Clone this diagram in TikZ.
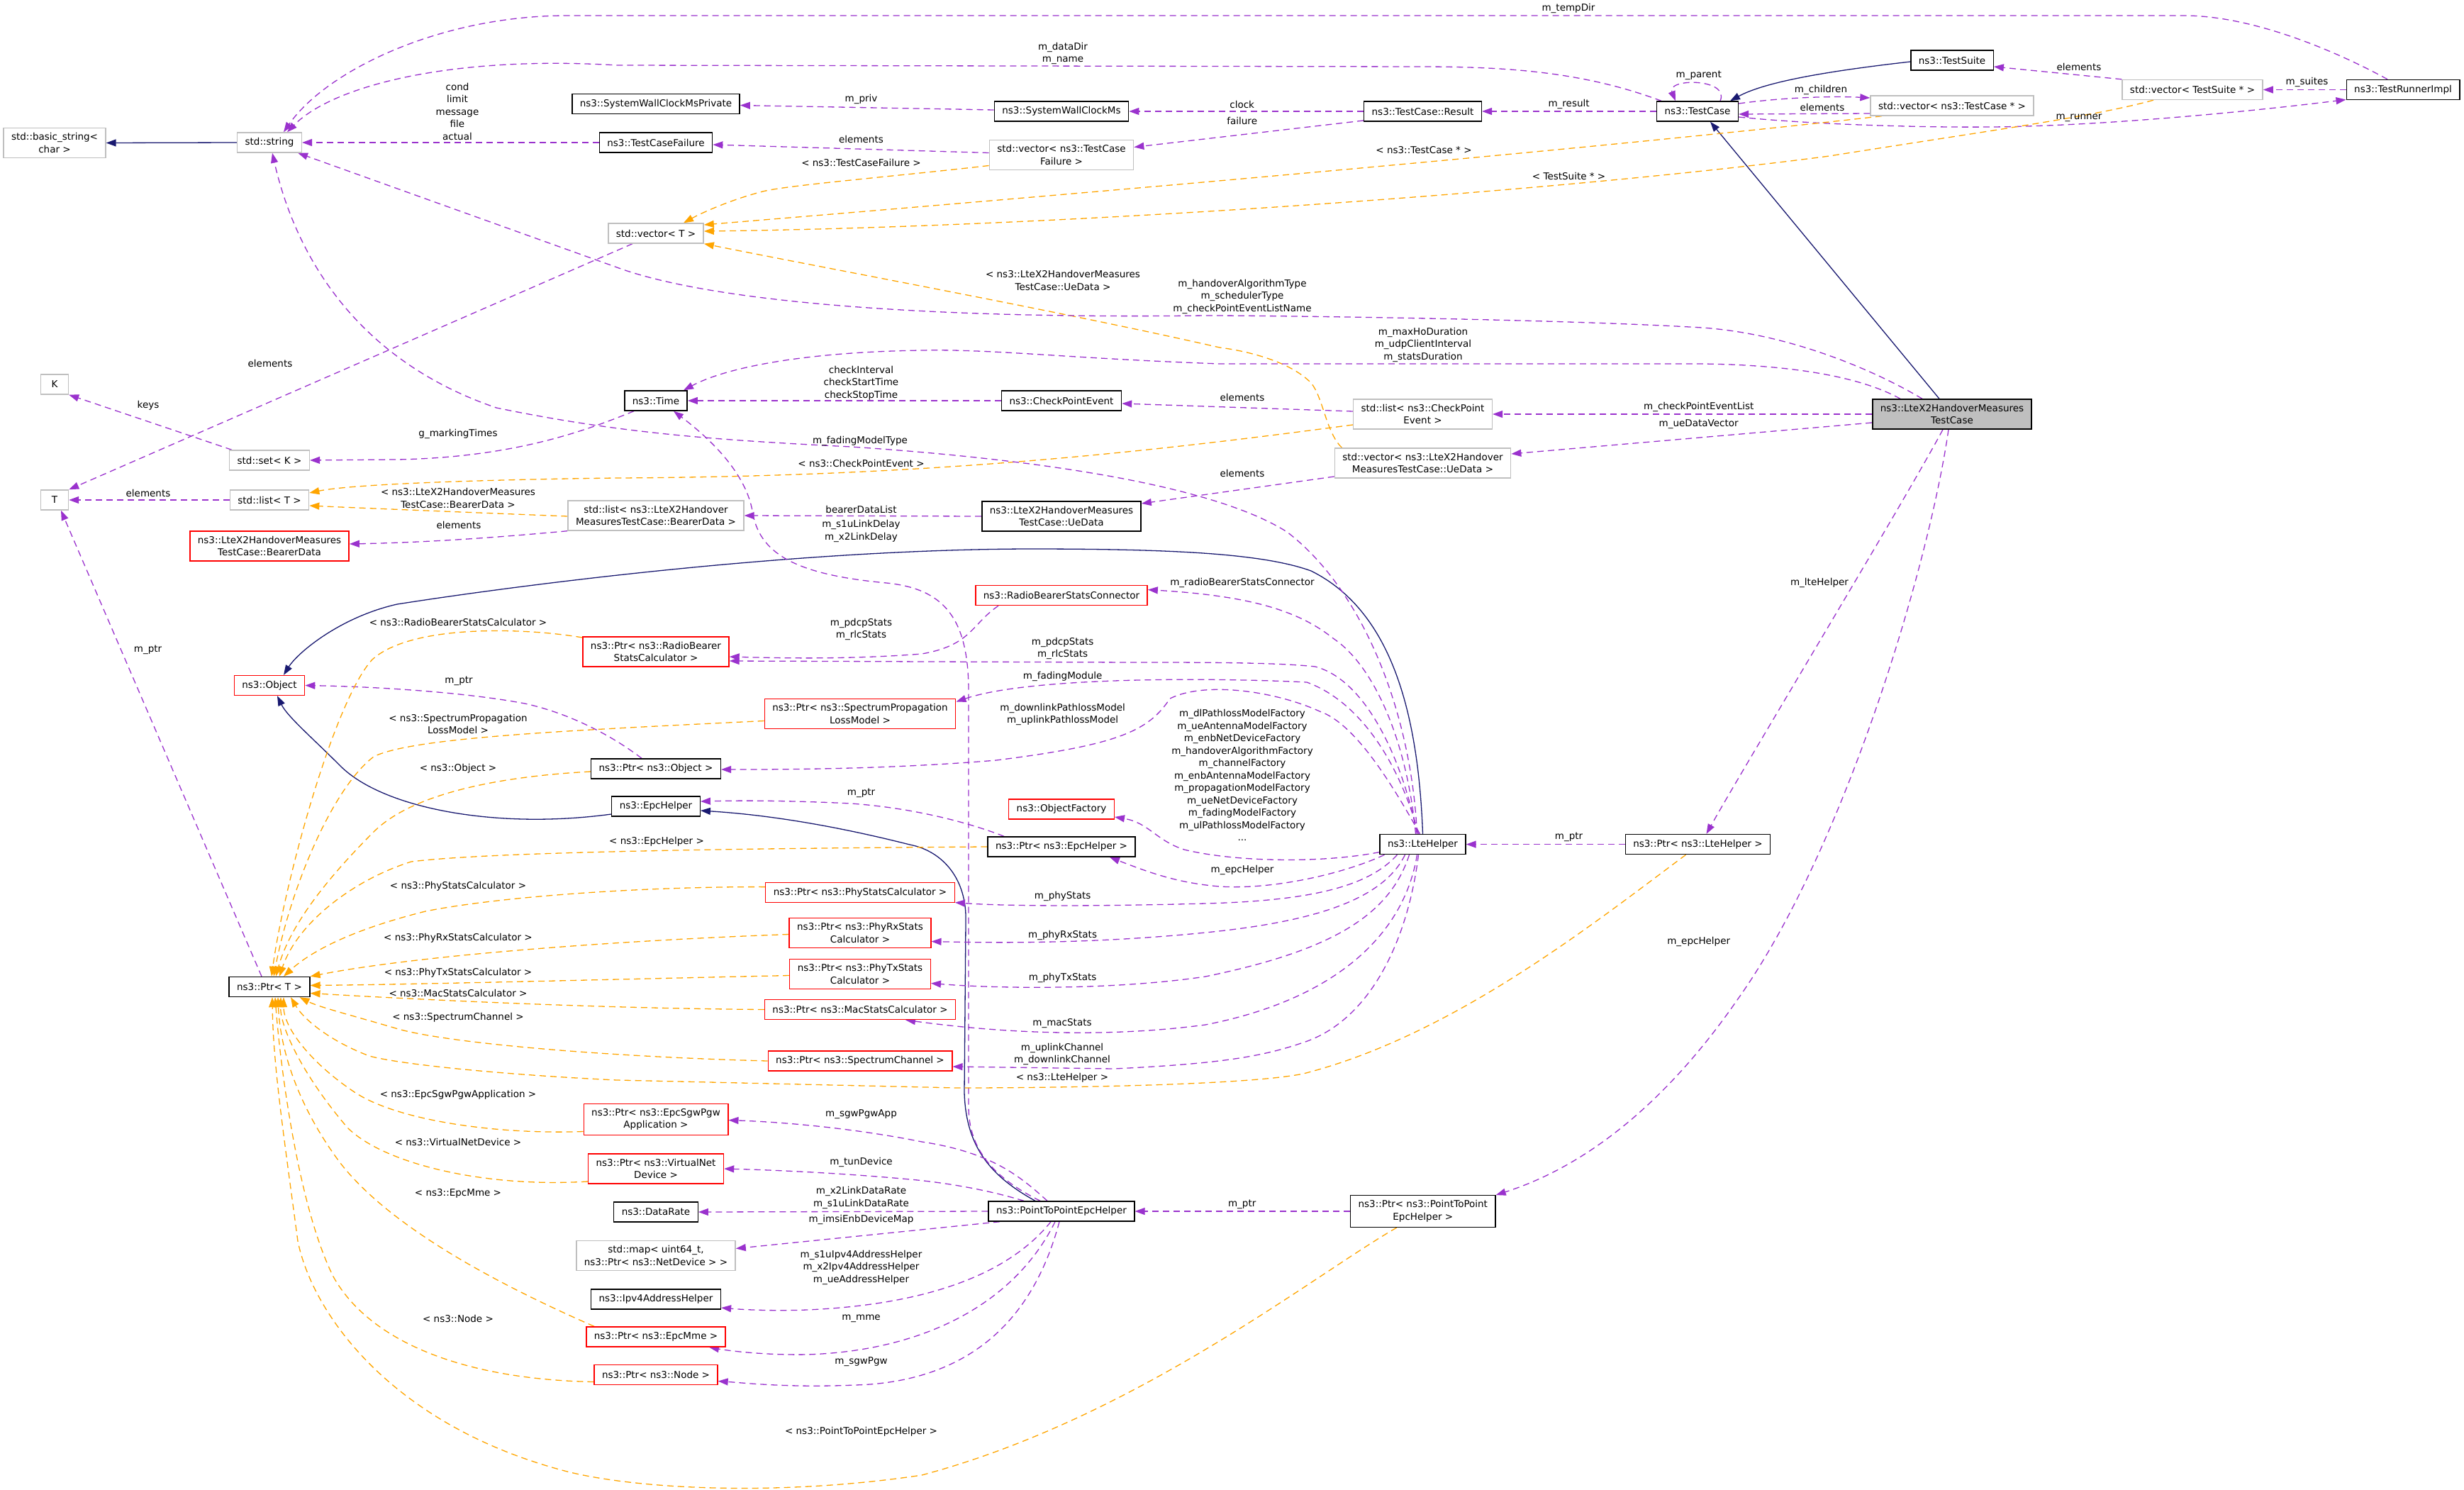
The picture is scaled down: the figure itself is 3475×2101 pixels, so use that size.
\documentclass[tikz,border=0pt]{standalone}
\usepackage{fontspec}
\setmainfont{DejaVu Sans}
\usepackage{tikz}
\usetikzlibrary{arrows.meta, backgrounds}
\definecolor{memPurple}{HTML}{9A32CD}
\definecolor{tmplOrange}{HTML}{FFA500}
\definecolor{inhNavy}{HTML}{191970}
\definecolor{boxGray}{HTML}{BFBFBF}
\definecolor{boxRed}{HTML}{FF0000}
\tikzset{
  classnode/.style={
    rectangle, draw=black, fill=white, line width=1.4pt,
    inner xsep=11pt, inner ysep=7pt, minimum height=28pt,
    align=center, font=\fontsize{13.5pt}{17.5pt}\selectfont
  },
  tmplnode/.style={classnode, draw=boxGray},
  truncnode/.style={classnode, draw=boxRed},
  focusnode/.style={classnode, fill=boxGray},
  elabel/.style={
    inner sep=0pt, align=center,
    font=\fontsize{13.5pt}{17.5pt}\selectfont
  },
  memarrow/.style={
    -{Triangle[length=14pt,width=10pt]},
    line width=1.3pt, color=memPurple, dash pattern=on 9pt off 6pt
  },
  tmplarrow/.style={memarrow, color=tmplOrange},
  inharrow/.style={
    -{Triangle[length=14pt,width=10pt]},
    line width=1.3pt, color=inhNavy
  }
}

\begin{document}
\begin{tikzpicture}[x=1pt, y=-1pt]
  \useasboundingbox (0,0) rectangle (3475,2101);

  % left columns
  \node[tmplnode] (bstr) at (77,201.5) {std::basic\_string<\\char >};
  \node[tmplnode, minimum width=39pt] (kk) at (77,542) {K};
  \node[tmplnode, minimum width=39pt] (tt) at (77,705) {T};
  \node[tmplnode] (str)   at (380,201)   {std::string};
  \node[tmplnode] (setk)  at (380,649)   {std::set< K >};
  \node[tmplnode] (listt) at (380,705)   {std::list< T >};
  \node[truncnode] (bdata) at (380,770)  {ns3::LteX2HandoverMeasures\\TestCase::BearerData};
  \node[truncnode] (obj)  at (380,966.5) {ns3::Object};
  \node[classnode] (ptrt) at (380,1391.5) {ns3::Ptr< T >};

  % column of members
  \node[classnode] (swcp)   at (925,146.5) {ns3::SystemWallClockMsPrivate};
  \node[classnode] (tcf)    at (925,201)   {ns3::TestCaseFailure};
  \node[tmplnode]  (vect)   at (925,329)   {std::vector< T >};
  \node[classnode] (time)   at (925,565)   {ns3::Time};
  \node[tmplnode]  (listbd) at (925,727)   {std::list< ns3::LteX2Handover\\MeasuresTestCase::BearerData >};
  \node[truncnode] (ptrrbsc) at (925,919)  {ns3::Ptr< ns3::RadioBearer\\StatsCalculator >};
  \node[classnode] (ptrobj) at (925,1084)  {ns3::Ptr< ns3::Object >};
  \node[classnode] (epc)    at (925,1137)  {ns3::EpcHelper};
  \node[truncnode] (ptrsgw) at (925,1578.5) {ns3::Ptr< ns3::EpcSgwPgw\\Application >};
  \node[truncnode] (ptrvnd) at (925,1648)  {ns3::Ptr< ns3::VirtualNet\\Device >};
  \node[classnode] (drate)  at (925,1709)  {ns3::DataRate};
  \node[tmplnode]  (imap)   at (925,1770.5) {std::map< uint64\_t,\\ns3::Ptr< ns3::NetDevice > >};
  \node[classnode] (ipv4)   at (925,1832)  {ns3::Ipv4AddressHelper};
  \node[truncnode] (ptrmme) at (925,1885)  {ns3::Ptr< ns3::EpcMme >};
  \node[truncnode] (ptrnode) at (925,1938.5) {ns3::Ptr< ns3::Node >};

  \node[truncnode] (ptrsplm) at (1213,1006.5) {ns3::Ptr< ns3::SpectrumPropagation\\LossModel >};
  \node[truncnode] (ptrphy)  at (1213,1258.6) {ns3::Ptr< ns3::PhyStatsCalculator >};
  \node[truncnode] (ptrrx)   at (1213,1315.5) {ns3::Ptr< ns3::PhyRxStats\\Calculator >};
  \node[truncnode] (ptrtx)   at (1213,1373.5) {ns3::Ptr< ns3::PhyTxStats\\Calculator >};
  \node[truncnode] (ptrmac)  at (1213,1423.5) {ns3::Ptr< ns3::MacStatsCalculator >};
  \node[truncnode] (ptrsc)   at (1213,1496)   {ns3::Ptr< ns3::SpectrumChannel >};

  \node[classnode] (swc)     at (1497,157)   {ns3::SystemWallClockMs};
  \node[tmplnode]  (vectcf)  at (1497,218.5) {std::vector< ns3::TestCase\\Failure >};
  \node[classnode] (cpe)     at (1497,565)   {ns3::CheckPointEvent};
  \node[classnode] (uedata)  at (1497,728)   {ns3::LteX2HandoverMeasures\\TestCase::UeData};
  \node[truncnode] (rbsconn) at (1497,839.5) {ns3::RadioBearerStatsConnector};
  \node[truncnode] (ofac)    at (1497,1141)  {ns3::ObjectFactory};
  \node[classnode] (ptrepc)  at (1497,1194)  {ns3::Ptr< ns3::EpcHelper >};
  \node[classnode] (p2p)     at (1497,1708)  {ns3::PointToPointEpcHelper};

  \node[classnode] (result)  at (2006.5,157) {ns3::TestCase::Result};
  \node[tmplnode]  (listcpe) at (2006.5,584) {std::list< ns3::CheckPoint\\Event >};
  \node[tmplnode]  (vecue)   at (2006.5,653) {std::vector< ns3::LteX2Handover\\MeasuresTestCase::UeData >};
  \node[classnode] (lte)     at (2006.5,1190.6) {ns3::LteHelper};
  \node[classnode] (ptrp2p)  at (2006.8,1708) {ns3::Ptr< ns3::PointToPoint\\EpcHelper >};

  \node[classnode] (tcase)   at (2394,157)    {ns3::TestCase};
  \node[classnode] (ptrlte)  at (2394.5,1190.6) {ns3::Ptr< ns3::LteHelper >};

  \node[classnode] (tsuite)  at (2753,85)   {ns3::TestSuite};
  \node[tmplnode]  (vectc)   at (2753,149)  {std::vector< ns3::TestCase * >};
  \node[focusnode] (main)    at (2753,584)  {ns3::LteX2HandoverMeasures\\TestCase};
  \node[tmplnode]  (vects)   at (3092,126.5) {std::vector< TestSuite * >};
  \node[classnode] (runner)  at (3389,126.5) {ns3::TestRunnerImpl};

  % edge labels
  \node[elabel] (lTemp)   at (2212,12)     {m\_tempDir};
  \node[elabel] (lData)   at (1499,75.5)   {m\_dataDir\\m\_name};
  \node[elabel] (lCond)   at (645,157)     {cond\\limit\\message\\file\\actual};
  \node[elabel] (lPriv)   at (1214.5,140)  {m\_priv};
  \node[elabel] (lTcfEl)  at (1214.5,196)  {elements};
  \node[elabel] (lTcfT)   at (1214.5,229.6) {< ns3::TestCaseFailure >};
  \node[elabel] (lClock)  at (1751.7,147)  {clock};
  \node[elabel] (lFail)   at (1751.7,170)  {failure};
  \node[elabel] (lResult) at (2212.6,147)  {m\_result};
  \node[elabel] (lParent) at (2395.7,106)  {m\_parent};
  \node[elabel] (lChild)  at (2568,127)    {m\_children};
  \node[elabel] (lTcEl)   at (2570,151)    {elements};
  \node[elabel] (lTsEl)   at (2932,94)     {elements};
  \node[elabel] (lSuites) at (3253.5,116)  {m\_suites};
  \node[elabel] (lRunner) at (2932,166)    {m\_runner};
  \node[elabel] (lTcPtr)  at (2008,212)    {< ns3::TestCase * >};
  \node[elabel] (lTsPtr)  at (2212.6,248)  {< TestSuite * >};
  \node[elabel] (lUeT)    at (1499,395.5)  {< ns3::LteX2HandoverMeasures\\TestCase::UeData >};
  \node[elabel] (lHand)   at (1752,418)    {m\_handoverAlgorithmType\\m\_schedulerType\\m\_checkPointEventListName};
  \node[elabel] (lMaxHo)  at (2007,486)    {m\_maxHoDuration\\m\_udpClientInterval\\m\_statsDuration};
  \node[elabel] (lVecEl)  at (381,512)     {elements};
  \node[elabel] (lCheck)  at (1214.5,540)  {checkInterval\\checkStartTime\\checkStopTime};
  \node[elabel] (lCpeEl)  at (1752,560)    {elements};
  \node[elabel] (lCpeLst) at (2395.7,574)  {m\_checkPointEventList};
  \node[elabel] (lUeVec)  at (2395.7,598)  {m\_ueDataVector};
  \node[elabel] (lKeys)   at (209,572)     {keys};
  \node[elabel] (lMark)   at (646,612)     {g\_markingTimes};
  \node[elabel] (lFadTyp) at (1213,622)    {m\_fadingModelType};
  \node[elabel] (lCpeT)   at (1214.5,653.5) {< ns3::CheckPointEvent >};
  \node[elabel] (lUeEl)   at (1752,667)    {elements};
  \node[elabel] (lListEl) at (209,695)     {elements};
  \node[elabel] (lBdT)    at (646,702.5)   {< ns3::LteX2HandoverMeasures\\TestCase::BearerData >};
  \node[elabel] (lBdList) at (1214.5,718)  {bearerDataList};
  \node[elabel] (lBdEl)   at (647,740)     {elements};
  \node[elabel] (lDelay)  at (1214.5,749)  {m\_s1uLinkDelay\\m\_x2LinkDelay};
  \node[elabel] (lRbsCon) at (1752,822)    {m\_radioBearerStatsConnector};
  \node[elabel] (lLteH)   at (2566,822)    {m\_lteHelper};
  \node[elabel] (lRbsT)   at (646,877.7)   {< ns3::RadioBearerStatsCalculator >};
  \node[elabel] (lPdcpA)  at (1214.5,887.5) {m\_pdcpStats\\m\_rlcStats};
  \node[elabel] (lPdcpB)  at (1498.6,914.5) {m\_pdcpStats\\m\_rlcStats};
  \node[elabel] (lTPtr)   at (208.6,916)   {m\_ptr};
  \node[elabel] (lFadMod) at (1498.6,954)  {m\_fadingModule};
  \node[elabel] (lObjPtr) at (647,960)     {m\_ptr};
  \node[elabel] (lPath)   at (1498.6,1007.5) {m\_downlinkPathlossModel\\m\_uplinkPathlossModel};
  \node[elabel] (lSplmT)  at (646,1021)    {< ns3::SpectrumPropagation\\LossModel >};
  \node[elabel] (lFact)   at (1752,1093)   {m\_dlPathlossModelFactory\\m\_ueAntennaModelFactory\\m\_enbNetDeviceFactory\\m\_handoverAlgorithmFactory\\m\_channelFactory\\m\_enbAntennaModelFactory\\m\_propagationModelFactory\\m\_ueNetDeviceFactory\\m\_fadingModelFactory\\m\_ulPathlossModelFactory\\...};
  \node[elabel] (lObjT)   at (646,1084)    {< ns3::Object >};
  \node[elabel] (lEpcPtr) at (1214.5,1118) {m\_ptr};
  \node[elabel] (lLtePtr) at (2212.6,1180) {m\_ptr};
  \node[elabel] (lEpcT)   at (926,1187)    {< ns3::EpcHelper >};
  \node[elabel] (lEpcH)   at (1752,1227)   {m\_epcHelper};
  \node[elabel] (lPhyT)   at (646,1250)    {< ns3::PhyStatsCalculator >};
  \node[elabel] (lPhy)    at (1498.6,1263.5) {m\_phyStats};
  \node[elabel] (lRxT)    at (646,1323)    {< ns3::PhyRxStatsCalculator >};
  \node[elabel] (lRx)     at (1498.6,1318.5) {m\_phyRxStats};
  \node[elabel] (lEpcH2)  at (2395.7,1328) {m\_epcHelper};
  \node[elabel] (lTxT)    at (646,1372)    {< ns3::PhyTxStatsCalculator >};
  \node[elabel] (lTx)     at (1498.6,1378.7) {m\_phyTxStats};
  \node[elabel] (lMacT)   at (646,1400)    {< ns3::MacStatsCalculator >};
  \node[elabel] (lScT)    at (646,1435)    {< ns3::SpectrumChannel >};
  \node[elabel] (lMac)    at (1498,1443)   {m\_macStats};
  \node[elabel] (lChan)   at (1498,1486.5) {m\_uplinkChannel\\m\_downlinkChannel};
  \node[elabel] (lLteT)   at (1498,1520)   {< ns3::LteHelper >};
  \node[elabel] (lSgwT)   at (646,1544)    {< ns3::EpcSgwPgwApplication >};
  \node[elabel] (lSgwApp) at (1214.5,1571) {m\_sgwPgwApp};
  \node[elabel] (lVndT)   at (646,1610)    {< ns3::VirtualNetDevice >};
  \node[elabel] (lTun)    at (1214.5,1639) {m\_tunDevice};
  \node[elabel] (lRate)   at (1214.5,1689) {m\_x2LinkDataRate\\m\_s1uLinkDataRate};
  \node[elabel] (lP2pPtr) at (1751.7,1698) {m\_ptr};
  \node[elabel] (lMmeT)   at (646,1683)    {< ns3::EpcMme >};
  \node[elabel] (lImsi)   at (1214.5,1720) {m\_imsiEnbDeviceMap};
  \node[elabel] (lIpv4)   at (1214.5,1787) {m\_s1uIpv4AddressHelper\\m\_x2Ipv4AddressHelper\\m\_ueAddressHelper};
  \node[elabel] (lNodeT)  at (646,1859)    {< ns3::Node >};
  \node[elabel] (lMme)    at (1214.5,1859) {m\_mme};
  \node[elabel] (lSgw)    at (1214.5,1920) {m\_sgwPgw};
  \node[elabel] (lP2pT)   at (1214.5,2019) {< ns3::PointToPointEpcHelper >};

  \begin{scope}[on background layer]
    % inheritance
    \draw[inharrow] (str.west) -- (bstr.east);
    \draw[inharrow] ([yshift=-2pt]tsuite.west) .. controls (2580,100) and (2490,115) .. ([xshift=46pt]tcase.north);
    \draw[inharrow] ([xshift=-18pt]main.north) -- ([xshift=18pt]tcase.south);
    \draw[inharrow] (lte.north) .. controls (2000,1000) and (1960,860) .. (1849,805)
      .. controls (1780,780) and (1650,774) .. (1450,774)
      .. controls (1100,775) and (700,830) .. (560,852)
      .. controls (480,870) and (420,920) .. ([xshift=20pt]obj.north);
    \draw[inharrow] ([yshift=-11pt]epc.west) .. controls (700,1170) and (540,1140) .. (480,1080)
      .. controls (440,1040) and (405,1010) .. ([xshift=11pt]obj.south);
    \draw[inharrow] ([xshift=-37pt]p2p.north) .. controls (1400,1660) and (1362,1620) .. (1360,1540)
      -- (1362,1300) .. controls (1364,1240) and (1330,1200) .. (1283,1191)
      .. controls (1200,1170) and (1100,1150) .. ([yshift=-6pt]epc.east);

    % test framework members
    \draw[memarrow] (tcf.west) -- (str.east);
    \draw[memarrow] ([xshift=-22pt]runner.north) .. controls (3300,75) and (3180,22) .. (3080,22)
      -- (800,22) .. controls (620,22) and (460,100) .. ([xshift=20pt]str.north);
    \draw[memarrow] ([xshift=-51pt]tcase.north) .. controls (2230,100) and (2120,94) .. (2000,94)
      -- (870,92) .. controls (640,78) and (470,120) .. ([xshift=25pt]str.north);
    \draw[memarrow] ([yshift=2pt]swc.west) -- ([yshift=-2pt]swcp.east);
    \draw[memarrow] ([yshift=3pt]vectcf.west) -- ([yshift=-3pt]tcf.east);
    \draw[memarrow] (result.west) -- (swc.east);
    \draw[memarrow] ([yshift=-13pt]result.west) -- ([yshift=11pt]vectcf.east);
    \draw[memarrow] (tcase.west) -- (result.east);
    \draw[memarrow] ([xshift=32pt]tcase.north) .. controls (2440,110) and (2350,110) .. ([xshift=-31pt]tcase.north);
    \draw[memarrow] ([yshift=11pt]tcase.east) .. controls (2510,138) and (2580,135) .. ([yshift=11pt]vectc.west);
    \draw[memarrow] ([yshift=-11pt]vectc.west) -- ([yshift=-4pt]tcase.east);
    \draw[memarrow] (vects.north west) -- ([yshift=-9pt]tsuite.east);
    \draw[memarrow] (runner.west) -- (vects.east);
    \draw[memarrow] ([yshift=-8pt]tcase.east) .. controls (2550,175) and (2700,180) .. (2808,179)
      .. controls (2950,178) and (3150,160) .. ([yshift=-14pt]runner.west);

    % template instances
    \draw[tmplarrow] ([yshift=-15pt]vectcf.west) .. controls (1250,250) and (1100,262) .. (1072,271)
      .. controls (1030,282) and (990,300) .. ([xshift=39pt]vect.north);
    \draw[tmplarrow] ([xshift=-99pt]vectc.south) .. controls (2200,215) and (1500,275) .. ([yshift=12pt]vect.east);
    \draw[tmplarrow] ([xshift=-55pt]vects.south) .. controls (2950,165) and (2800,185) .. (2580,220)
      .. controls (2200,270) and (1500,320) .. ([yshift=3pt]vect.east);
    \draw[tmplarrow] ([xshift=-114pt]vecue.north) .. controls (1870,610) and (1866,560) .. (1849,540)
      .. controls (1820,510) and (1760,495) .. (1720,490)
      .. controls (1500,440) and (1200,385) .. (vect.south east);
    \draw[tmplarrow] ([yshift=-1pt]listbd.west) .. controls (650,722) and (500,716) .. ([yshift=-8pt]listt.east);
    \draw[tmplarrow] ([yshift=-15pt]listcpe.west) .. controls (1600,640) and (1300,672) .. (870,674)
      .. controls (700,676) and (500,682) .. ([yshift=10pt]listt.east);

    % test case members
    \draw[memarrow] ([xshift=-42pt]main.north) .. controls (2640,520) and (2520,470) .. (2400,462)
      .. controls (2200,450) and (1800,445) .. (1700,445)
      .. controls (1300,450) and (1000,425) .. (870,377) -- ([xshift=-6pt]str.south east);
    \draw[memarrow] ([xshift=-73pt]main.north) .. controls (2640,540) and (2560,515) .. (2400,513)
      -- (1720,513) .. controls (1500,505) and (1400,492) .. (1300,494)
      .. controls (1150,496) and (1030,515) .. ([xshift=39pt]time.north);
    \draw[memarrow] (main.west) -- (listcpe.east);
    \draw[memarrow] ([yshift=-12pt]main.west) -- ([yshift=13pt]vecue.east);
    \draw[memarrow] ([yshift=4pt]listcpe.west) -- ([yshift=-4pt]cpe.east);
    \draw[memarrow] ([yshift=-19pt]vecue.west) -- ([yshift=18pt]uedata.east);
    \draw[memarrow] (cpe.west) -- (time.east);
    \draw[memarrow] (uedata.west) -- (listbd.east);
    \draw[memarrow] (listbd.south west) .. controls (700,758) and (600,765) .. ([yshift=3pt]bdata.east);
    \draw[memarrow] (listt.west) -- (tt.east);
    \draw[memarrow] ([xshift=-33pt]vect.south) -- (tt.north east);
    \draw[memarrow] ([xshift=-53pt]setk.north) -- (kk.south east);
    \draw[memarrow] ([xshift=-31pt]time.south) .. controls (820,610) and (720,645) .. (560,648) -- (setk.east);
    \draw[memarrow] ([xshift=-11pt]ptrt.north) -- ([xshift=9pt]tt.south);
    \draw[memarrow] ([xshift=-13pt]main.south) .. controls (2690,700) and (2460,1080) .. ([xshift=12pt]ptrlte.north);
    \draw[memarrow] ([xshift=-5pt]main.south) .. controls (2720,800) and (2600,1200) .. (2450,1410)
      .. controls (2360,1540) and (2250,1640) .. (ptrp2p.north east);
    \draw[memarrow] (ptrlte.west) -- (lte.east);
    \draw[memarrow] (ptrp2p.west) -- (p2p.east);

    % LteHelper members
    \draw[memarrow] ([xshift=-8pt]lte.north) .. controls (1990,1000) and (1920,830) .. (1815,750)
      .. controls (1720,690) and (1500,650) .. (1200,630)
      .. controls (1000,620) and (870,610) .. (700,575)
      .. controls (480,500) and (410,330) .. ([xshift=4pt]str.south);
    \draw[memarrow] ([xshift=-10pt]lte.north) .. controls (1985,1050) and (1940,940) .. (1880,900)
      .. controls (1830,860) and (1760,840) .. ([yshift=8pt]rbsconn.east);
    \draw[memarrow] ([xshift=-89pt]rbsconn.south) .. controls (1370,880) and (1370,910) .. (1300,922)
      .. controls (1200,930) and (1100,928) .. ([yshift=-7pt]ptrrbsc.east);
    \draw[memarrow] ([xshift=-8pt]lte.north) .. controls (1980,1080) and (1930,960) .. (1855,940)
      .. controls (1800,934) and (1700,934) .. (1600,934) -- ([yshift=-13pt]ptrrbsc.east);
    \draw[memarrow] ([xshift=-6pt]lte.north) .. controls (1975,1080) and (1920,990) .. (1843,962)
      .. controls (1700,955) and (1450,955) .. ([yshift=17pt]ptrsplm.east);
    \draw[memarrow] ([xshift=-4pt]lte.north) .. controls (1960,1100) and (1910,1020) .. (1861,1003)
      .. controls (1800,975) and (1700,960) .. (1650,985)
      .. controls (1620,1030) and (1580,1050) .. (1405,1072)
      .. controls (1250,1085) and (1100,1085) .. ([yshift=-1pt]ptrobj.east);
    \draw[memarrow] ([yshift=-11pt]lte.west) .. controls (1860,1218) and (1740,1215) .. (1670,1198)
      .. controls (1630,1185) and (1620,1160) .. ([yshift=-11pt]ofac.east);
    \draw[memarrow] ([xshift=-54pt]lte.south) .. controls (1900,1230) and (1800,1255) .. (1720,1250)
      .. controls (1660,1245) and (1620,1230) .. ([xshift=68pt]ptrepc.south);
    \draw[memarrow] ([xshift=-36pt]lte.south) .. controls (1930,1250) and (1850,1270) .. (1700,1274)
      .. controls (1550,1278) and (1420,1278) .. ([yshift=-14pt]ptrphy.east);
    \draw[memarrow] ([xshift=-25pt]lte.south) .. controls (1950,1270) and (1850,1300) .. (1700,1315)
      .. controls (1550,1330) and (1420,1330) .. ([yshift=-12pt]ptrrx.east);
    \draw[memarrow] ([xshift=-19pt]lte.south) .. controls (1960,1290) and (1880,1340) .. (1700,1377)
      .. controls (1580,1395) and (1420,1395) .. ([yshift=-13pt]ptrtx.east);
    \draw[memarrow] ([xshift=-8pt]lte.south) .. controls (1980,1320) and (1880,1410) .. (1700,1445)
      .. controls (1550,1465) and (1400,1455) .. ([xshift=64pt]ptrmac.south);
    \draw[memarrow] ([xshift=-6pt]lte.south) .. controls (1985,1330) and (1930,1440) .. (1838,1470)
      .. controls (1780,1490) and (1720,1500) .. (1571,1507) -- ([yshift=-8pt]ptrsc.east);
    \draw[memarrow] ([xshift=-20pt]ptrobj.north) .. controls (860,1035) and (800,1005) .. (740,992)
      .. controls (650,975) and (520,968) .. (obj.east);
    \draw[memarrow] ([xshift=-81pt]ptrepc.north) .. controls (1380,1165) and (1300,1140) .. (1200,1133)
      .. controls (1100,1128) and (1030,1129) .. ([yshift=7pt]epc.east);

    % PointToPointEpcHelper members
    \draw[memarrow] ([xshift=-30pt]p2p.north) .. controls (1400,1660) and (1366,1620) .. (1366,1560)
      -- (1366,975) .. controls (1366,870) and (1330,830) .. (1250,822)
      .. controls (1120,810) and (1070,780) .. (1061,720)
      .. controls (1050,660) and (990,610) .. ([xshift=25pt]time.south);
    \draw[memarrow] ([xshift=-20pt]p2p.north) .. controls (1440,1660) and (1400,1625) .. (1300,1610)
      .. controls (1200,1590) and (1100,1582) .. ([yshift=-1pt]ptrsgw.east);
    \draw[memarrow] ([xshift=-53pt]p2p.north) .. controls (1400,1680) and (1350,1670) .. (1294,1664)
      .. controls (1200,1655) and (1100,1650) .. (ptrvnd.east);
    \draw[memarrow] (p2p.west) -- (drate.east);
    \draw[memarrow] ([xshift=-87pt]p2p.south) -- ([yshift=10pt]imap.east);
    \draw[memarrow] ([xshift=-15pt]p2p.south) .. controls (1420,1800) and (1300,1840) .. (1138,1847)
      .. controls (1080,1849) and (1040,1846) .. ([yshift=-12pt]ipv4.east);
    \draw[memarrow] ([xshift=-9pt]p2p.south) .. controls (1430,1840) and (1300,1905) .. (1138,1910)
      .. controls (1080,1911) and (1030,1905) .. ([xshift=75pt]ptrmme.south);
    \draw[memarrow] ([xshift=-3pt]p2p.south) .. controls (1460,1850) and (1380,1940) .. (1227,1952)
      .. controls (1120,1958) and (1050,1950) .. ([yshift=-9pt]ptrnode.east);

    % smart pointer instances
    \draw[tmplarrow] ([yshift=20pt]ptrrbsc.west) .. controls (740,885) and (580,880) .. (525,930)
      .. controls (470,990) and (400,1250) .. ([xshift=3pt]ptrt.north);
    \draw[tmplarrow] ([yshift=-10pt]ptrsplm.west) .. controls (800,1030) and (580,1040) .. (527,1067)
      .. controls (470,1110) and (410,1250) .. ([xshift=6pt]ptrt.north);
    \draw[tmplarrow] ([yshift=-4pt]ptrobj.west) .. controls (700,1095) and (580,1120) .. (527,1173)
      .. controls (470,1230) and (410,1300) .. ([xshift=9pt]ptrt.north);
    \draw[tmplarrow] (ptrepc.west) .. controls (1100,1196) and (700,1200) .. (580,1215)
      .. controls (500,1240) and (420,1300) .. ([xshift=14pt]ptrt.north);
    \draw[tmplarrow] ([yshift=8pt]ptrphy.west) .. controls (900,1250) and (700,1265) .. (600,1285)
      .. controls (500,1310) and (440,1340) .. ([xshift=20pt]ptrt.north);
    \draw[tmplarrow] ([yshift=-2pt]ptrrx.west) .. controls (900,1325) and (600,1345) .. (ptrt.north east);
    \draw[tmplarrow] ([yshift=-2pt]ptrtx.west) .. controls (900,1380) and (600,1388) .. ([yshift=2pt]ptrt.east);
    \draw[tmplarrow] (ptrmac.west) .. controls (850,1422) and (600,1410) .. ([yshift=-9pt]ptrt.east);
    \draw[tmplarrow] (ptrsc.west) .. controls (850,1490) and (620,1470) .. (555,1449)
      .. controls (490,1430) and (450,1420) .. ([xshift=-15pt]ptrt.south east);
    \draw[tmplarrow] ([xshift=-17pt]ptrlte.south) .. controls (2250,1300) and (2050,1460) .. (1838,1514)
      .. controls (1760,1530) and (1500,1534) .. (1349,1534) -- (870,1523)
      .. controls (700,1515) and (560,1500) .. (521,1489)
      .. controls (470,1470) and (430,1440) .. ([xshift=30pt]ptrt.south);
    \draw[tmplarrow] ([yshift=-17pt]ptrsgw.west) .. controls (700,1600) and (560,1580) .. (500,1540)
      .. controls (440,1500) and (400,1450) .. ([xshift=20pt]ptrt.south);
    \draw[tmplarrow] ([yshift=-18pt]ptrvnd.west) .. controls (680,1675) and (540,1640) .. (490,1590)
      .. controls (430,1520) and (395,1450) .. ([xshift=16pt]ptrt.south);
    \draw[tmplarrow] ([xshift=-87pt]ptrmme.north) .. controls (700,1810) and (550,1730) .. (480,1640)
      .. controls (420,1560) and (395,1480) .. ([xshift=12pt]ptrt.south);
    \draw[tmplarrow] ([yshift=-10pt]ptrnode.west) .. controls (650,1945) and (520,1890) .. (470,1800)
      .. controls (420,1700) and (395,1500) .. ([xshift=8pt]ptrt.south);
    \draw[tmplarrow] ([xshift=-37pt]ptrp2p.south) .. controls (1850,1800) and (1600,2000) .. (1300,2080)
      .. controls (1100,2110) and (900,2100) .. (800,2075)
      .. controls (550,2010) and (440,1850) .. (420,1750)
      .. controls (400,1600) and (385,1500) .. ([xshift=4pt]ptrt.south);
  \end{scope}

\end{tikzpicture}
\end{document}
